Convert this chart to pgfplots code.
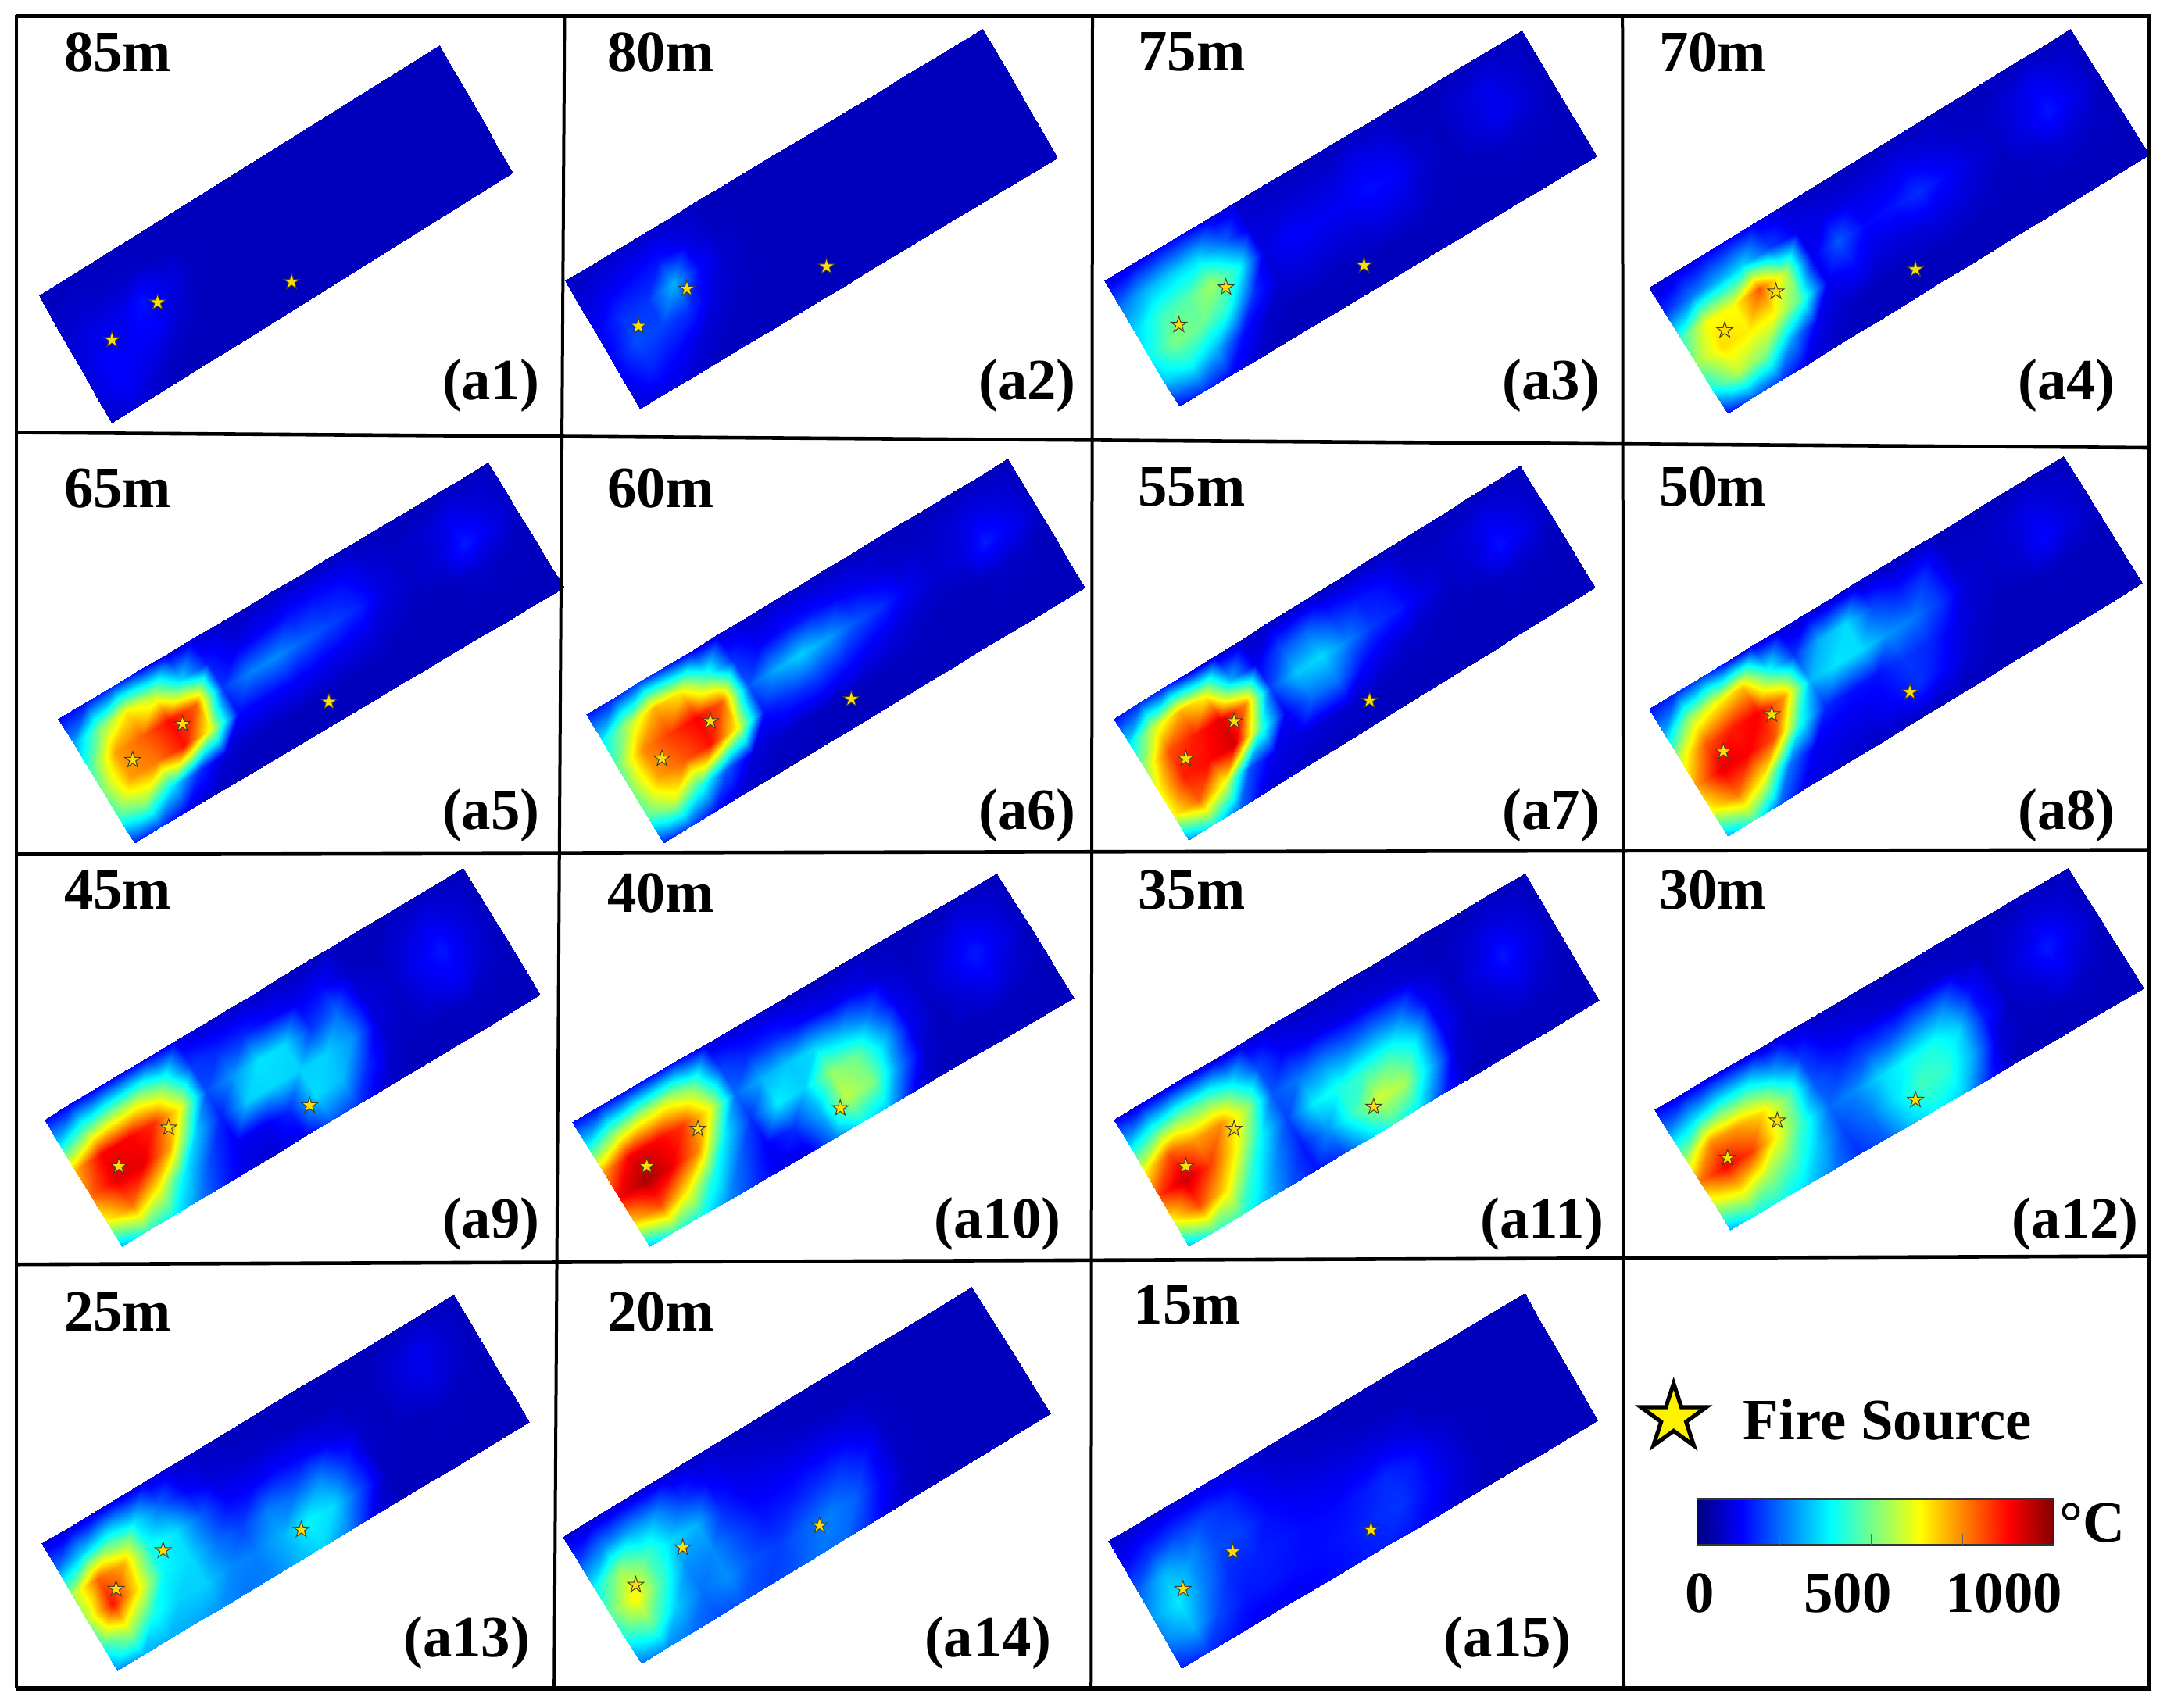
\documentclass[border=0pt]{standalone}
\usepackage{fontspec}
\setmainfont{Liberation Serif}
\usepackage{pgfplots}
\usepackage{pgfplotstable}
\pgfplotsset{compat=1.18}

% star mark for the fire sources
\pgfdeclareplotmark{fstar}{%
  \pgfpathmoveto{\pgfqpointpolar{90}{\pgfplotmarksize}}%
  \pgfpathlineto{\pgfpointpolar{126}{0.382\pgfplotmarksize}}%
  \pgfpathlineto{\pgfpointpolar{162}{\pgfplotmarksize}}%
  \pgfpathlineto{\pgfpointpolar{198}{0.382\pgfplotmarksize}}%
  \pgfpathlineto{\pgfpointpolar{234}{\pgfplotmarksize}}%
  \pgfpathlineto{\pgfpointpolar{270}{0.382\pgfplotmarksize}}%
  \pgfpathlineto{\pgfpointpolar{306}{\pgfplotmarksize}}%
  \pgfpathlineto{\pgfpointpolar{342}{0.382\pgfplotmarksize}}%
  \pgfpathlineto{\pgfpointpolar{18}{\pgfplotmarksize}}%
  \pgfpathlineto{\pgfpointpolar{54}{0.382\pgfplotmarksize}}%
  \pgfpathclose\pgfusepathqfillstroke}

% temperatures, 6 rows of 17 values along each slab
\pgfplotstableread[row sep=\\]{c\\
60\\60\\60\\60\\60\\60\\60\\60\\60\\60\\60\\60\\60\\60\\60\\60\\60\\
70\\75\\70\\70\\65\\60\\60\\60\\60\\60\\60\\60\\60\\60\\60\\60\\60\\
80\\100\\105\\140\\100\\65\\60\\60\\60\\60\\60\\60\\60\\60\\60\\60\\60\\
90\\125\\120\\120\\75\\60\\60\\60\\60\\60\\60\\60\\60\\60\\60\\60\\60\\
90\\125\\100\\70\\60\\60\\60\\60\\60\\60\\60\\60\\60\\60\\60\\60\\60\\
70\\90\\65\\60\\60\\60\\60\\60\\60\\60\\60\\60\\60\\60\\60\\60\\60\\
}\tA
\pgfplotstableread[row sep=\\]{c\\
65\\70\\75\\70\\65\\60\\60\\60\\60\\60\\60\\60\\60\\60\\60\\60\\60\\
85\\110\\125\\140\\100\\65\\60\\60\\60\\60\\60\\60\\60\\60\\60\\60\\60\\
115\\170\\175\\300\\130\\75\\60\\60\\60\\60\\60\\60\\60\\60\\60\\60\\60\\
120\\200\\190\\170\\90\\65\\60\\60\\60\\60\\60\\60\\60\\60\\60\\60\\60\\
110\\160\\130\\85\\65\\60\\60\\60\\60\\60\\60\\60\\60\\60\\60\\60\\60\\
80\\100\\80\\65\\60\\60\\60\\60\\60\\60\\60\\60\\60\\60\\60\\60\\60\\
}\tB
\pgfplotstableread[row sep=\\]{c\\
90\\105\\125\\125\\100\\75\\65\\60\\60\\60\\60\\60\\60\\60\\60\\60\\60\\
230\\300\\330\\340\\230\\90\\85\\85\\85\\110\\100\\65\\60\\85\\105\\80\\60\\
330\\430\\460\\530\\390\\95\\125\\115\\115\\135\\125\\80\\60\\85\\115\\85\\60\\
380\\500\\480\\410\\170\\80\\95\\85\\85\\100\\90\\65\\60\\65\\70\\65\\60\\
320\\380\\300\\140\\70\\60\\60\\60\\60\\60\\60\\60\\60\\60\\60\\60\\60\\
130\\170\\130\\75\\60\\60\\60\\60\\60\\60\\60\\60\\60\\60\\60\\60\\60\\
}\tC
\pgfplotstableread[row sep=\\]{c\\
75\\95\\110\\120\\105\\80\\65\\60\\60\\60\\60\\60\\60\\60\\60\\60\\60\\
170\\240\\290\\330\\190\\110\\100\\95\\100\\110\\90\\70\\65\\90\\115\\90\\60\\
420\\620\\620\\790\\560\\110\\210\\130\\140\\170\\130\\90\\70\\100\\145\\100\\60\\
520\\660\\640\\620\\450\\110\\130\\90\\90\\100\\90\\70\\60\\70\\85\\70\\60\\
400\\560\\500\\280\\110\\70\\60\\60\\60\\60\\60\\60\\60\\60\\60\\60\\60\\
130\\220\\190\\100\\70\\60\\60\\60\\60\\60\\60\\60\\60\\60\\60\\60\\60\\
}\tD
\pgfplotstableread[row sep=\\]{c\\
120\\140\\170\\130\\100\\85\\70\\65\\65\\60\\60\\60\\60\\60\\60\\60\\60\\
280\\500\\640\\560\\340\\150\\100\\120\\140\\140\\130\\85\\70\\80\\110\\90\\65\\
430\\720\\780\\870\\780\\180\\250\\260\\220\\190\\160\\95\\70\\85\\150\\105\\65\\
500\\720\\760\\860\\600\\130\\130\\130\\115\\105\\90\\70\\60\\60\\75\\65\\60\\
430\\520\\350\\170\\80\\65\\60\\60\\60\\60\\60\\60\\60\\60\\60\\60\\60\\
150\\180\\110\\70\\60\\60\\60\\60\\60\\60\\60\\60\\60\\60\\60\\60\\60\\
}\tE
\pgfplotstableread[row sep=\\]{c\\
140\\160\\190\\150\\110\\90\\75\\70\\65\\60\\60\\60\\60\\60\\60\\60\\60\\
360\\540\\700\\640\\430\\170\\120\\140\\140\\120\\100\\75\\70\\80\\105\\90\\65\\
470\\740\\820\\880\\780\\210\\290\\330\\280\\210\\170\\110\\80\\90\\150\\115\\70\\
500\\720\\790\\860\\620\\140\\170\\180\\150\\115\\90\\70\\60\\60\\70\\65\\60\\
450\\580\\420\\210\\90\\70\\65\\60\\60\\60\\60\\60\\60\\60\\60\\60\\60\\
150\\200\\130\\80\\65\\60\\60\\60\\60\\60\\60\\60\\60\\60\\60\\60\\60\\
}\tF
\pgfplotstableread[row sep=\\]{c\\
130\\170\\150\\100\\80\\70\\65\\65\\60\\60\\60\\60\\60\\60\\60\\60\\60\\
350\\580\\700\\620\\300\\110\\200\\230\\170\\150\\130\\75\\70\\85\\110\\90\\65\\
520\\800\\850\\900\\740\\190\\320\\340\\250\\180\\150\\100\\70\\85\\140\\105\\65\\
620\\850\\870\\920\\440\\120\\230\\240\\135\\95\\75\\65\\60\\60\\70\\65\\60\\
620\\780\\600\\200\\100\\90\\80\\75\\65\\60\\60\\60\\60\\60\\60\\60\\60\\
260\\400\\230\\100\\80\\65\\60\\60\\60\\60\\60\\60\\60\\60\\60\\60\\60\\
}\tG
\pgfplotstableread[row sep=\\]{c\\
130\\160\\190\\130\\100\\85\\75\\70\\65\\60\\60\\60\\60\\60\\60\\60\\60\\
300\\540\\620\\680\\400\\180\\300\\340\\200\\150\\170\\75\\70\\80\\105\\85\\65\\
580\\790\\850\\880\\720\\300\\350\\340\\270\\240\\180\\85\\70\\80\\130\\95\\65\\
720\\900\\880\\800\\400\\160\\140\\140\\180\\160\\105\\70\\60\\60\\65\\60\\60\\
620\\760\\620\\240\\110\\100\\100\\125\\170\\125\\75\\60\\60\\60\\60\\60\\60\\
300\\440\\230\\110\\90\\75\\65\\60\\60\\60\\60\\60\\60\\60\\60\\60\\60\\
}\tH
\pgfplotstableread[row sep=\\]{c\\
120\\120\\120\\120\\120\\100\\80\\70\\65\\60\\60\\60\\60\\60\\60\\60\\60\\
350\\470\\520\\540\\440\\180\\160\\160\\130\\110\\130\\70\\60\\85\\110\\85\\60\\
700\\880\\880\\830\\620\\200\\270\\350\\340\\180\\230\\90\\70\\110\\145\\95\\60\\
770\\900\\900\\720\\330\\150\\330\\340\\330\\330\\270\\90\\65\\95\\120\\75\\60\\
620\\760\\620\\360\\190\\110\\105\\160\\340\\310\\160\\70\\60\\60\\65\\60\\60\\
300\\430\\380\\250\\150\\90\\85\\110\\220\\180\\85\\60\\60\\60\\60\\60\\60\\
}\tI
\pgfplotstableread[row sep=\\]{c\\
130\\130\\130\\130\\130\\100\\85\\75\\65\\60\\60\\60\\60\\60\\60\\60\\60\\
380\\500\\560\\570\\470\\190\\160\\160\\130\\110\\110\\80\\65\\80\\110\\90\\60\\
720\\890\\880\\820\\620\\230\\300\\320\\340\\300\\240\\110\\70\\105\\150\\105\\60\\
880\\960\\900\\740\\360\\170\\360\\330\\520\\480\\320\\110\\60\\85\\110\\75\\60\\
680\\800\\640\\400\\220\\120\\170\\300\\560\\500\\250\\75\\60\\60\\65\\60\\60\\
320\\440\\390\\260\\170\\100\\100\\250\\380\\320\\115\\60\\60\\60\\60\\60\\60\\
}\tJ
\pgfplotstableread[row sep=\\]{c\\
110\\100\\100\\90\\90\\85\\75\\65\\60\\60\\60\\60\\60\\60\\60\\60\\60\\
330\\420\\470\\450\\360\\200\\125\\105\\100\\95\\90\\75\\60\\75\\100\\85\\60\\
620\\800\\720\\740\\540\\210\\240\\260\\240\\260\\250\\120\\65\\100\\145\\100\\60\\
820\\930\\820\\630\\370\\190\\360\\400\\430\\440\\360\\125\\65\\80\\105\\75\\60\\
620\\800\\660\\420\\260\\150\\270\\430\\580\\540\\320\\85\\60\\60\\65\\60\\60\\
310\\440\\440\\320\\210\\140\\180\\320\\430\\360\\160\\60\\60\\60\\60\\60\\60\\
}\tK
\pgfplotstableread[row sep=\\]{c\\
105\\105\\105\\100\\90\\80\\70\\65\\60\\60\\60\\60\\60\\60\\60\\60\\60\\
280\\350\\400\\400\\300\\180\\115\\100\\85\\80\\80\\70\\60\\75\\100\\90\\60\\
520\\740\\720\\660\\480\\210\\170\\190\\200\\240\\250\\140\\70\\100\\150\\105\\60\\
760\\880\\820\\620\\420\\230\\260\\340\\380\\400\\340\\145\\65\\80\\110\\75\\60\\
560\\640\\540\\450\\320\\190\\240\\350\\440\\420\\290\\85\\60\\60\\65\\60\\60\\
300\\390\\400\\340\\250\\170\\210\\320\\380\\330\\160\\60\\60\\60\\60\\60\\60\\
}\tL
\pgfplotstableread[row sep=\\]{c\\
80\\85\\90\\95\\95\\75\\65\\60\\60\\60\\60\\60\\60\\60\\60\\60\\60\\
240\\330\\400\\350\\230\\125\\85\\75\\70\\65\\60\\60\\60\\85\\110\\80\\60\\
540\\780\\700\\400\\350\\220\\125\\120\\130\\120\\100\\70\\60\\85\\100\\70\\60\\
540\\860\\640\\370\\340\\240\\190\\250\\230\\260\\175\\70\\60\\60\\65\\60\\60\\
430\\560\\390\\330\\330\\260\\250\\300\\370\\340\\200\\65\\60\\60\\60\\60\\60\\
260\\300\\300\\290\\270\\240\\250\\300\\340\\250\\105\\60\\60\\60\\60\\60\\60\\
}\tM
\pgfplotstableread[row sep=\\]{c\\
80\\80\\80\\80\\80\\70\\65\\60\\60\\60\\60\\60\\60\\60\\60\\60\\60\\
190\\260\\280\\270\\180\\125\\90\\80\\70\\65\\60\\60\\60\\60\\60\\60\\60\\
370\\530\\450\\340\\300\\165\\115\\110\\110\\110\\100\\70\\60\\60\\60\\60\\60\\
470\\640\\440\\265\\260\\195\\145\\150\\170\\180\\145\\70\\60\\60\\60\\60\\60\\
400\\480\\320\\235\\265\\205\\185\\220\\250\\220\\125\\65\\60\\60\\60\\60\\60\\
240\\270\\235\\200\\210\\185\\205\\240\\230\\155\\85\\60\\60\\60\\60\\60\\60\\
}\tN
\pgfplotstableread[row sep=\\]{c\\
75\\80\\85\\85\\90\\80\\70\\65\\60\\60\\60\\60\\60\\60\\60\\60\\60\\
125\\165\\190\\190\\165\\115\\85\\75\\70\\65\\60\\60\\60\\60\\60\\60\\60\\
220\\310\\270\\200\\185\\135\\115\\105\\100\\100\\95\\70\\60\\60\\60\\60\\60\\
280\\360\\250\\165\\155\\145\\130\\130\\145\\165\\145\\95\\65\\60\\60\\60\\60\\
250\\300\\195\\145\\145\\135\\135\\145\\165\\175\\135\\95\\65\\60\\60\\60\\60\\
150\\175\\140\\115\\115\\120\\130\\145\\155\\135\\105\\75\\60\\60\\60\\60\\60\\
}\tO

% left corner, top corner, bottom corner, table
\newcommand{\slab}[7]{%
  \addplot[surf,shader=interp,mesh/cols=17,point meta=\thisrow{c}] table[
    x index=0,y index=0,
    x expr={#1+mod(\coordindex,17)/16*(#3-#1)+floor(\coordindex/17)/5*(#5-#1)},
    y expr={#2+mod(\coordindex,17)/16*(#4-#2)+floor(\coordindex/17)/5*(#6-#2)},
  ] {#7};}
\newcommand{\stars}[1]{%
  \addplot[only marks,mark=fstar,mark size=2.7pt,
    mark options={fill=yellow!80!orange,draw=black!70!olive,line width=0.25pt}]
    coordinates {#1};}
\newcommand{\frameline}[5][1.15pt]{%
  \addplot[black,line width=#1,no marks] coordinates {(#2,#3)(#4,#5)};}
\newcommand{\bigb}{\fontsize{18.7}{20}\selectfont\bfseries}
\newcommand{\lab}[3]{\node[anchor=base west,inner sep=0pt] at (axis cs:#1,#2) {\bigb #3};}
\newcommand{\ptag}[3]{\node[anchor=base east,inner sep=0pt] at (axis cs:#1,#2) {\bigb #3};}

\begin{document}
\begin{tikzpicture}
\useasboundingbox (0,0) rectangle (693.25pt,546.25pt);
\begin{axis}[
  at={(0,0)},anchor=south west,
  scale only axis,width=693.25pt,height=546.25pt,
  hide axis,clip=false,
  xmin=0,xmax=1568,ymin=0,ymax=1235.5,y dir=reverse,
  colormap/jet,point meta min=0,point meta max=1000,
]
\slab{28}{214}{318}{33}{81}{306}{\tA}
\slab{409}{203}{711}{21}{463}{296}{\tB}
\slab{799}{203}{1101}{22}{853}{294}{\tC}
\slab{1193}{208}{1498}{21}{1250}{299}{\tD}
\slab{42}{520}{353}{335}{97}{610}{\tE}
\slab{424}{517}{729}{332}{480}{610}{\tF}
\slab{806}{520}{1100}{337}{860}{608}{\tG}
\slab{1193}{513}{1493}{330}{1250}{605}{\tH}
\slab{32}{810}{335}{628}{88}{902}{\tI}
\slab{414}{812}{721}{632}{470}{902}{\tJ}
\slab{806}{810}{1103}{632}{860}{902}{\tK}
\slab{1197}{803}{1496}{628}{1252}{890}{\tL}
\slab{30}{1117}{328}{937}{85}{1209}{\tM}
\slab{407}{1112}{703}{931}{464}{1204}{\tN}
\slab{802}{1115}{1103}{936}{855}{1207}{\tO}

\stars{(81,246)(114,219)(211,204)}
\stars{(462,236)(497,209)(598,193)}
\stars{(853,235)(887,208)(987,192)}
\stars{(1248,239)(1285,211)(1386,195)}
\stars{(96,550)(132,524)(238,508)}
\stars{(479,549)(514,522)(616,506)}
\stars{(858,549)(893,522)(991,507)}
\stars{(1247,544)(1282,517)(1382,501)}
\stars{(86,844)(122,816)(224,800)}
\stars{(468,844)(505,817)(608,802)}
\stars{(858,844)(893,817)(994,801)}
\stars{(1250,838)(1286,811)(1386,796)}
\stars{(84,1150)(118,1122)(218,1107)}
\stars{(460,1147)(494,1120)(593,1104)}
\stars{(856,1150)(892,1123)(992,1107)}

% panel frame
\frameline[1.35pt]{12}{11.5}{1556}{11.5}
\frameline{12}{313}{1555}{324}
\frameline{12}{618}{1555}{615}
\frameline{12}{915}{1555}{909}
\frameline[1.35pt]{12}{1222}{1556}{1222}
\frameline[1pt]{12}{11}{12}{1222}
\frameline[1pt]{408.5}{12}{401}{1222}
\frameline[1pt]{790.5}{12}{789.5}{1222}
\frameline[1pt]{1174}{12}{1175}{1222}
\frameline[1.35pt]{1555}{11}{1555}{1223}

\lab{46}{52}{85m}\lab{439}{52}{80m}\lab{823}{51}{75m}\lab{1200}{52}{70m}
\lab{46}{367}{65m}\lab{439}{367}{60m}\lab{823}{366}{55m}\lab{1200}{366}{50m}
\lab{46}{658}{45m}\lab{439}{660}{40m}\lab{823}{658}{35m}\lab{1200}{658}{30m}
\lab{46}{963}{25m}\lab{439}{963}{20m}\lab{820}{958}{15m}
\ptag{391}{289}{(a1)}\ptag{779}{289}{(a2)}\ptag{1158}{289}{(a3)}\ptag{1531}{289}{(a4)}
\ptag{391}{600}{(a5)}\ptag{779}{600}{(a6)}\ptag{1158}{600}{(a7)}\ptag{1531}{600}{(a8)}
\ptag{391}{896}{(a9)}\ptag{768}{896}{(a10)}\ptag{1161}{896}{(a11)}\ptag{1548}{896}{(a12)}
\ptag{384}{1199}{(a13)}\ptag{761}{1199}{(a14)}\ptag{1137}{1199}{(a15)}

% legend
\addplot[only marks,mark=fstar,mark size=11pt,
  mark options={fill=yellow,draw=black,line width=1.3pt,miter limit=10}]
  coordinates {(1211,1026)};
\lab{1261}{1042}{Fire Source}
\addplot[surf,shader=interp,mesh/cols=9,point meta=\thisrow{c}] table[row sep=\\] {
x y c\\
1228 1085 0\\1260.25 1085 125\\1292.5 1085 250\\1324.75 1085 375\\1357 1085 500\\1389.25 1085 625\\1421.5 1085 750\\1453.75 1085 875\\1486 1085 1000\\
1228 1118 0\\1260.25 1118 125\\1292.5 1118 250\\1324.75 1118 375\\1357 1118 500\\1389.25 1118 625\\1421.5 1118 750\\1453.75 1118 875\\1486 1118 1000\\
};
\addplot[black!80,line width=0.7pt,no marks] coordinates {(1228,1085)(1486,1085)};
\addplot[black!80,line width=0.7pt,no marks] coordinates {(1228,1118)(1486,1118)};
\addplot[black!60,line width=0.2pt,no marks] coordinates {(1288,1118)(1288,1110)};
\addplot[black!60,line width=0.2pt,no marks] coordinates {(1354,1118)(1354,1110)};
\addplot[black!60,line width=0.2pt,no marks] coordinates {(1420,1118)(1420,1110)};
\lab{1490}{1116}{°C}
\node[anchor=base,inner sep=0pt] at (axis cs:1230,1167) {\bigb 0};
\node[anchor=base,inner sep=0pt] at (axis cs:1337,1167) {\bigb 500};
\node[anchor=base,inner sep=0pt] at (axis cs:1450,1167) {\bigb 1000};
\end{axis}
\end{tikzpicture}
\end{document}
